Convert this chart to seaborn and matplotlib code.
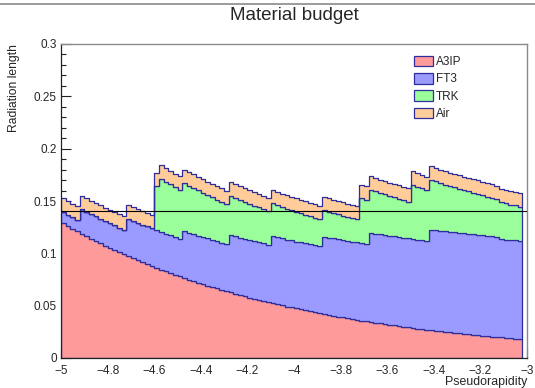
import numpy as np
import pandas as pd
import matplotlib
matplotlib.use("Agg")
import matplotlib.pyplot as plt
import seaborn as sns
from matplotlib.patches import Patch
from matplotlib.lines import Line2D
from matplotlib.ticker import MultipleLocator

# Binning in pseudorapidity: 99 bins of width 0.02 starting at -5
eta_start = -5.0
bin_width = 0.02
n_bins = 99

# Radiation length per bin for each detector component (bottom to top of stack)
a3ip = [
    0.1286, 0.1260, 0.1235, 0.1211, 0.1187, 0.1163, 0.1140, 0.1118, 0.1095, 0.1074,
    0.1052, 0.1032, 0.1011, 0.0991, 0.0972, 0.0952, 0.0934, 0.0915, 0.0897, 0.0879,
    0.0862, 0.0845, 0.0828, 0.0812, 0.0796, 0.0780, 0.0764, 0.0749, 0.0735, 0.0720,
    0.0706, 0.0692, 0.0678, 0.0665, 0.0652, 0.0639, 0.0626, 0.0614, 0.0601, 0.0590,
    0.0578, 0.0566, 0.0555, 0.0544, 0.0533, 0.0523, 0.0512, 0.0502, 0.0492, 0.0483,
    0.0473, 0.0464, 0.0455, 0.0446, 0.0437, 0.0428, 0.0420, 0.0411, 0.0403, 0.0395,
    0.0387, 0.0380, 0.0372, 0.0365, 0.0358, 0.0351, 0.0344, 0.0337, 0.0330, 0.0324,
    0.0317, 0.0311, 0.0305, 0.0299, 0.0293, 0.0287, 0.0281, 0.0276, 0.0270, 0.0265,
    0.0260, 0.0254, 0.0249, 0.0244, 0.0240, 0.0235, 0.0230, 0.0226, 0.0221, 0.0217,
    0.0212, 0.0208, 0.0204, 0.0200, 0.0196, 0.0192, 0.0188, 0.0185, 0.0181,
]

ft3 = ([0.011] * 4 + [0.0235] * 10 + [0.036] * 12 + [0.045] * 10 + [0.055] * 9
       + [0.064] * 11 + [0.074] * 10 + [0.085] * 13 + [0.096] * 15 + [0.094] * 5)

trk = ([0.0] * 20 + [
    0.0420, 0.0507, 0.0497, 0.0487, 0.0478, 0.0468, 0.0458, 0.0449, 0.0441, 0.0432,
    0.0424, 0.0415, 0.0407, 0.0399, 0.0391, 0.0383, 0.0376, 0.0368, 0.0361, 0.0354,
    0.0347, 0.0340, 0.0333, 0.0326, 0.0320, 0.0314, 0.0307, 0.0301, 0.0295, 0.0290,
    0.0284, 0.0278, 0.0273, 0.0268, 0.0262, 0.0257, 0.0252, 0.0247, 0.0242, 0.0237,
    0.0232, 0.0228, 0.0223, 0.0219,
] + [
    0.0430, 0.0421, 0.0413, 0.0404, 0.0396, 0.0389, 0.0380, 0.0373, 0.0366, 0.0359,
    0.0352,
] + [
    0.0517, 0.0506, 0.0497, 0.0486, 0.0477, 0.0468, 0.0457, 0.0448, 0.0439, 0.0432,
    0.0423, 0.0414, 0.0407, 0.0398, 0.0391, 0.0382, 0.0374, 0.0367, 0.0360, 0.0353,
    0.0346, 0.0338, 0.0333, 0.0326,
])

air = [0.0128] * 99

layers = ["A3IP", "FT3", "TRK", "Air"]
colors = {"A3IP": "#ff9a9a", "FT3": "#9a9aff", "TRK": "#9aff9a", "Air": "#ffcc9a"}
line_color = "#2e2e9c"

x_ticks = [-5, -4.8, -4.6, -4.4, -4.2, -4, -3.8, -3.6, -3.4, -3.2, -3]
x_tick_labels = ["\u22125", "\u22124.8", "\u22124.6", "\u22124.4", "\u22124.2", "\u22124",
                 "\u22123.8", "\u22123.6", "\u22123.4", "\u22123.2", "\u22123"]
y_ticks = [0, 0.05, 0.1, 0.15, 0.2, 0.25, 0.3]
y_tick_labels = ["0", "0.05", "0.1", "0.15", "0.2", "0.25", "0.3"]
reference_level = 0.14

# Long-form table for seaborn
eta_stop = round(eta_start + bin_width * n_bins, 4)
centers = eta_start + bin_width * (np.arange(n_bins) + 0.5)
df = pd.concat([
    pd.DataFrame({"eta": centers, "x0": vals, "layer": name})
    for name, vals in zip(layers, [a3ip, ft3, trk, air])
], ignore_index=True)

sns.set_theme(style="ticks")
plt.rcParams["font.family"] = ["Liberation Sans", "DejaVu Sans"]

W, H = 535, 388
fig = plt.figure(figsize=(W / 100, H / 100), dpi=100)
ax = fig.add_axes([61 / W, 1 - 358 / H, (527 - 61) / W, (358 - 44) / H])

sns.histplot(data=df, x="eta", weights="x0", hue="layer",
             hue_order=layers[::-1], palette=colors,
             bins=n_bins, binrange=(eta_start, eta_stop),
             multiple="stack", element="step",
             alpha=1, edgecolor=line_color, linewidth=0.9,
             legend=False, ax=ax)

ax.axhline(reference_level, color="black", lw=0.8, zorder=5)

ax.set_xlim(-5, -3)
ax.set_ylim(0, 0.3)
ax.set_xticks(x_ticks)
ax.set_xticklabels(x_tick_labels)
ax.set_yticks(y_ticks)
ax.set_yticklabels(y_tick_labels)
ax.xaxis.set_minor_locator(MultipleLocator(0.05))
ax.yaxis.set_minor_locator(MultipleLocator(0.01))
ax.tick_params(which="both", direction="in", top=False, right=False,
               labelsize=8.5, color="#222222", width=0.8)
ax.tick_params(which="major", length=7)
ax.tick_params(axis="x", which="major", pad=5)
ax.tick_params(axis="y", which="major", pad=3)
ax.tick_params(which="minor", length=3.5)
ax.set_xlabel("")
ax.set_ylabel("")
for side in ["left", "bottom"]:
    ax.spines[side].set_color("#222222")
    ax.spines[side].set_linewidth(0.9)
for side in ["top", "right"]:
    ax.spines[side].set_color("#8a8a8a")
    ax.spines[side].set_linewidth(1.0)

handles = [Patch(facecolor=colors[n], edgecolor=line_color, linewidth=0.9) for n in layers]
ax.legend(handles, layers, loc="upper left", bbox_to_anchor=((409 - 61) / 466, (358 - 51) / 314),
          frameon=False, fontsize=8.5, handlelength=1.6, handleheight=1.0,
          labelspacing=0.42, handletextpad=0.3, borderaxespad=0)

fig.text(294 / W, 1 - 16 / H, "Material budget", ha="center", va="center", fontsize=13.5)
fig.text(14 / W, 1 - 44 / H, "Radiation length", rotation=90, ha="center", va="top", fontsize=8.7)
fig.text(527 / W, 1 - 382 / H, "Pseudorapidity", ha="right", va="center", fontsize=8.9)
fig.add_artist(Line2D([0, 1], [1 - 4 / H, 1 - 4 / H], color="#8a8a8a", lw=1.2,
                      transform=fig.transFigure))

fig.savefig("out.png", dpi=100, facecolor="white")
